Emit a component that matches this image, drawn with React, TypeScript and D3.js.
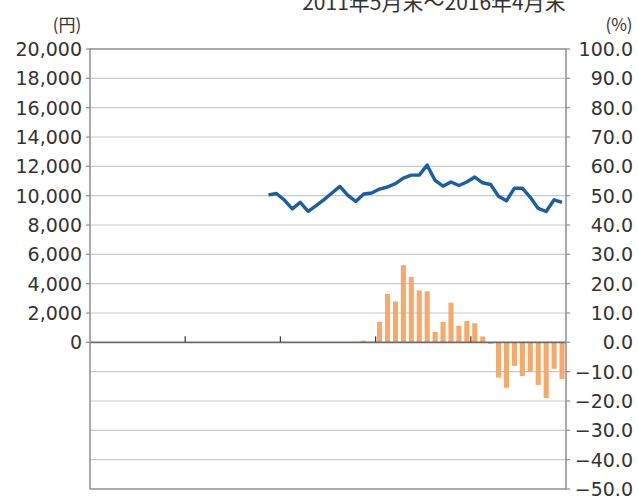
import * as d3 from 'd3'

// 2011/5 .. 2016/4, one slot per month-end
const START_YEAR = 2011
const START_MONTH = 5
const MONTHS = d3.range(60).map((i) => {
  const m = START_MONTH - 1 + i
  return `${START_YEAR + Math.floor(m / 12)}/${(m % 12) + 1}`
})

// 基準価額 (円), starts at 2013/3
const PRICE_START = 22
const PRICE = [
  10050, 10150, 9700, 9100, 9550, 8930, 9320, 9730, 10180, 10630,
  10020, 9610, 10110, 10180, 10450, 10590, 10820, 11200, 11400, 11400,
  12080, 11040, 10650, 10930, 10690, 10930, 11270, 10880, 10760, 9960,
  9650, 10510, 10510, 9890, 9130, 8920, 9720, 9540,
]

// 前年同月比 (%), starts 12 months later
const CHG_START = 34
const CHANGE = [
  0.6, 0.2, 7.0, 16.5, 13.9, 26.3, 22.3, 17.7, 17.4, 3.6,
  7.0, 13.5, 5.6, 7.3, 6.5, 2.0, -0.5, -12.0, -15.5, -8.0,
  -11.5, -10.0, -14.5, -19.0, -9.0, -12.5,
]

const LEFT_TICKS = [0, 2000, 4000, 6000, 8000, 10000, 12000, 14000, 16000, 18000, 20000]
const RIGHT_TICKS = [-50, -40, -30, -20, -10, 0, 10, 20, 30, 40, 50, 60, 70, 80, 90, 100]
const TITLE = '2011年5月末〜2016年4月末'

const W = 638
const H = 498
const M = { left: 90, right: 566, top: 49, bottom: 489 }
const FONT = '"DejaVu Sans", sans-serif'
const BLUE = '#1b5ea8'
const ORANGE = '#f6a96b'

export default function App() {
  const x = d3.scaleBand<number>().domain(d3.range(MONTHS.length)).range([M.left, M.right]).paddingInner(0.36).paddingOuter(0.18)
  const xs = d3.scaleBand<number>().domain(d3.range(MONTHS.length)).range([M.left, M.right])
  const yR = d3.scaleLinear().domain([-50, 100]).range([M.bottom, M.top])
  const yL = d3.scaleLinear().domain([-10000, 20000]).range([M.bottom, M.top])

  const pricePts = PRICE.map((v, i) => ({ i: PRICE_START + i, v }))
  const line = d3.line<{ i: number; v: number }>()
    .x((d) => (xs(d.i) ?? 0) + xs.bandwidth() / 2)
    .y((d) => yL(d.v))

  const bars = CHANGE.map((v, i) => ({ i: CHG_START + i, v }))
  const y0 = yR(0)
  const yearTicks = [12, 24, 36, 48].map((i) => xs(i) ?? 0)

  return (
    <svg width={W} height={H} viewBox={`0 0 ${W} ${H}`}
      style={{ position: 'absolute', left: 0, top: 0, background: '#fff' }}>
      <rect x={0} y={0} width={W} height={H} fill="#fff" />
      <text x={434} y={10} textAnchor="middle" fontFamily='"Noto Sans CJK JP", sans-serif'
        fontSize={21} fill="#333">{TITLE}</text>
      <text x={67} y={31} textAnchor="middle" fontFamily='"Noto Sans CJK JP", sans-serif'
        fontSize={17} fill="#333">(円)</text>
      <text x={619} y={31} textAnchor="middle" fontFamily='"Noto Sans CJK JP", sans-serif'
        fontSize={17} fill="#333">(%)</text>

      {/* gridlines */}
      {RIGHT_TICKS.filter((t) => t !== 0 && t !== -50 && t !== 100).map((t) => (
        <line key={t} x1={M.left} x2={M.right} y1={yR(t)} y2={yR(t)} stroke="#c9c9c9" strokeWidth={1.2} />
      ))}

      {/* bars */}
      {bars.map((d) => (
        <rect key={d.i} x={x(d.i)} width={x.bandwidth()}
          y={Math.min(yR(d.v), y0)} height={Math.abs(yR(d.v) - y0)} fill={ORANGE} />
      ))}

      {/* zero axis + year ticks */}
      <line x1={M.left} x2={M.right} y1={y0} y2={y0} stroke="#6b6b6b" strokeWidth={1.6} />
      {yearTicks.map((tx, k) => (
        <line key={k} x1={tx} x2={tx} y1={y0} y2={y0 - 6} stroke="#444" strokeWidth={1.3} />
      ))}

      {/* price line */}
      <path d={line(pricePts) ?? ''} fill="none" stroke={BLUE} strokeWidth={3.4} strokeLinejoin="round" />

      {/* frame */}
      <rect x={M.left} y={M.top} width={M.right - M.left} height={M.bottom - M.top}
        fill="none" stroke="#8f8f8f" strokeWidth={1.5} />

      {/* left axis */}
      {LEFT_TICKS.map((t) => (
        <g key={t}>
          <line x1={M.left - 4} x2={M.left} y1={yL(t)} y2={yL(t)} stroke="#8f8f8f" strokeWidth={1.2} />
          <text x={82} y={yL(t)} dy="0.36em" textAnchor="end" fontFamily={FONT} fontSize={19} fill="#333">
            {d3.format(',')(t)}
          </text>
        </g>
      ))}

      {/* right axis */}
      {RIGHT_TICKS.map((t) => (
        <g key={t}>
          <line x1={M.right} x2={M.right + 4} y1={yR(t)} y2={yR(t)} stroke="#8f8f8f" strokeWidth={1.2} />
          <text x={633} y={yR(t)} dy="0.36em" textAnchor="end" fontFamily={FONT} fontSize={19} fill="#333">
            {d3.format('.1f')(t)}
          </text>
        </g>
      ))}
    </svg>
  )
}
